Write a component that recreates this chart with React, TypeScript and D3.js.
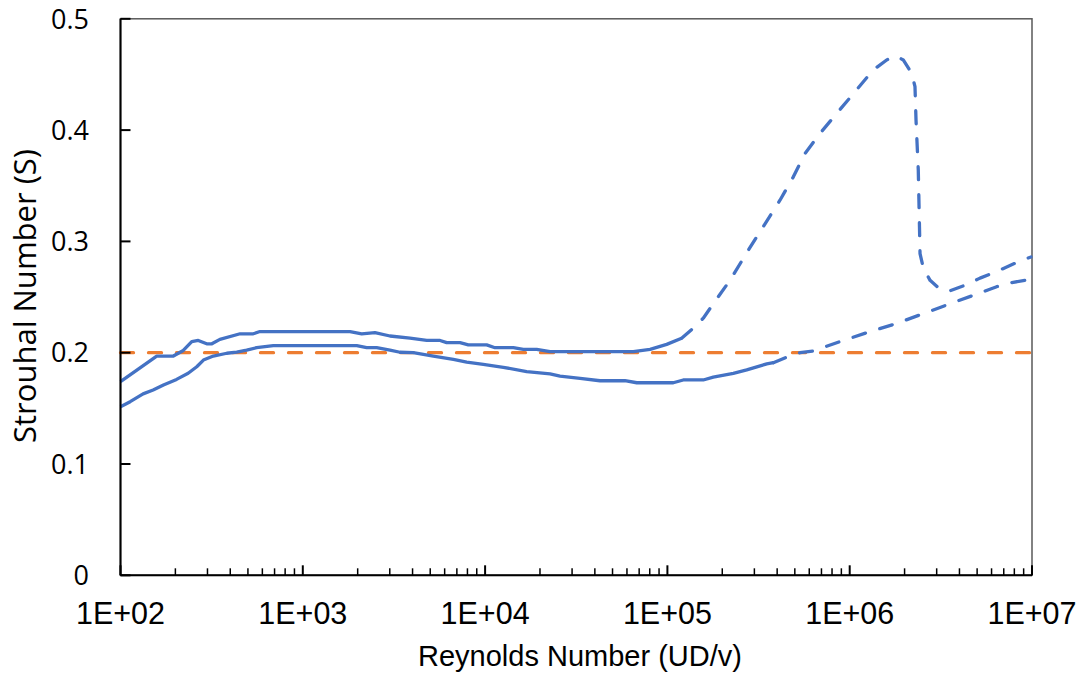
import React from 'react'
import * as d3 from 'd3'

// Reynolds number / Strouhal number pairs
const upperSolid: [number, number][] = [
  [100, 0.174], [158, 0.197], [195, 0.197], [221, 0.202], [246, 0.21], [267, 0.211],
  [297, 0.208], [317, 0.208], [351, 0.212], [453, 0.217], [535, 0.217], [582, 0.219],
  [816, 0.219], [1816, 0.219], [2104, 0.217], [2489, 0.218], [3007, 0.215], [3873, 0.213],
  [4785, 0.211], [5662, 0.211], [6157, 0.209], [7285, 0.209], [8090, 0.207], [10200, 0.207],
  [11330, 0.2045], [14280, 0.2045], [16210, 0.203], [19190, 0.203], [22710, 0.201],
  [65000, 0.201], [80350, 0.203], [99100, 0.2075], [119700, 0.213],
]

const upperDashed: [number, number][] = [
  [119700, 0.213], [138600, 0.222], [157300, 0.231], [178500, 0.244], [220400, 0.265],
  [277700, 0.292], [414500, 0.337], [490800, 0.358], [568700, 0.379], [687300, 0.397],
  [849000, 0.415], [1069000, 0.4345], [1346000, 0.454], [1595000, 0.463], [1794000, 0.4666],
  [1967000, 0.463], [2188000, 0.451], [2281000, 0.439], [2311000, 0.409], [2378000, 0.364],
  [2410000, 0.319], [2431000, 0.289], [2535000, 0.276], [2760000, 0.265], [3131000, 0.257],
  [3551000, 0.2557], [4200000, 0.26], [5185000, 0.267], [6400000, 0.273], [8780000, 0.283],
  [9870000, 0.286],
]

const lowerSolid: [number, number][] = [
  [100, 0.1515], [113, 0.156], [133, 0.163], [151, 0.1665], [172, 0.171], [203, 0.176],
  [235, 0.1815], [262, 0.1874], [285, 0.1934], [323, 0.197], [383, 0.1995], [434, 0.2006],
  [492, 0.2024], [558, 0.2045], [689, 0.2063], [1977, 0.2063], [2240, 0.2045], [2543, 0.2045],
  [3007, 0.2024], [3412, 0.2004], [4036, 0.2], [5200, 0.197], [6698, 0.194], [7927, 0.1916],
  [9776, 0.1896], [12590, 0.1869], [16910, 0.183], [22710, 0.181], [25760, 0.179],
  [33190, 0.177], [42700, 0.1748], [58510, 0.1748], [67900, 0.173], [107700, 0.173],
  [122200, 0.1755], [157300, 0.1755], [178500, 0.178], [230000, 0.1815], [272400, 0.1845],
  [350900, 0.19], [381300, 0.191],
]

const lowerDashed: [number, number][] = [
  [381300, 0.191], [451000, 0.196], [533500, 0.2], [631000, 0.2015], [884000, 0.21],
  [1240000, 0.218], [1771000, 0.2258], [2431000, 0.234], [3407000, 0.2429], [4667000, 0.251],
  [6400000, 0.2593], [7740000, 0.263], [9870000, 0.266],
]

const reference: [number, number][] = [[100, 0.2], [10000000, 0.2]]

const xTicks = [1e2, 1e3, 1e4, 1e5, 1e6, 1e7]
const xTickLabels = ['1E+02', '1E+03', '1E+04', '1E+05', '1E+06', '1E+07']
const yTicks = [0, 0.1, 0.2, 0.3, 0.4, 0.5]
const yTickLabels = ['0', '0.1', '0.2', '0.3', '0.4', '0.5']

const BLUE = '#4472C4'
const ORANGE = '#ED7D31'

export default function App() {
  const width = 1082, height = 677
  const x = d3.scaleLog().domain([1e2, 1e7]).range([120.5, 1032])
  const y = d3.scaleLinear().domain([0, 0.5]).range([575.3, 18.8])

  const line = d3.line<[number, number]>()
    .x(d => x(d[0]))
    .y(d => y(d[1]))

  // minor ticks 2..9 in every decade
  const minorTicks: number[] = []
  for (let e = 2; e < 7; e++) {
    for (let m = 2; m <= 9; m++) minorTicks.push(m * Math.pow(10, e))
  }

  const [x0, x1] = x.range()
  const [y0, y1] = y.range()
  const dash = { strokeDasharray: '13 15', strokeLinecap: 'round' as const }

  return (
    <svg width={width} height={height} style={{ position: 'absolute', left: 0, top: 0, background: '#fff' }}>
      <rect x={x0} y={y1} width={x1 - x0} height={y0 - y1} fill="none" stroke="#595959" strokeWidth={1.5} />

      {/* series */}
      <path d={line(reference) || ''} fill="none" stroke={ORANGE} strokeWidth={3.3} {...dash} />
      <path d={line(upperSolid) || ''} fill="none" stroke={BLUE} strokeWidth={3.3} strokeLinejoin="round" />
      <path d={line(lowerSolid) || ''} fill="none" stroke={BLUE} strokeWidth={3.3} strokeLinejoin="round" />
      <path d={line(upperDashed) || ''} fill="none" stroke={BLUE} strokeWidth={3.3} strokeLinejoin="round" {...dash} />
      <path d={line(lowerDashed) || ''} fill="none" stroke={BLUE} strokeWidth={3.3} strokeLinejoin="round" {...dash} />

      {/* axes */}
      <line x1={x0} x2={x0} y1={y1} y2={y0} stroke="#000" strokeWidth={2} />
      <line x1={x0} x2={x1} y1={y0} y2={y0} stroke="#000" strokeWidth={2} />
      {yTicks.map(t => (
        <line key={'yt' + t} x1={x0} x2={x0 + 10} y1={y(t)} y2={y(t)} stroke="#000" strokeWidth={2} />
      ))}
      {xTicks.map(t => (
        <line key={'xt' + t} x1={x(t)} x2={x(t)} y1={y0} y2={y0 - 10} stroke="#000" strokeWidth={2} />
      ))}
      {minorTicks.map(t => (
        <line key={'mt' + t} x1={x(t)} x2={x(t)} y1={y0} y2={y0 - 7} stroke="#000" strokeWidth={1.5} />
      ))}

      {/* tick labels */}
      {yTicks.map((t, i) => (
        <text key={'yl' + t} x={89} y={y(t)} dy="0.36em" textAnchor="end"
          fontFamily="'Open Sans', sans-serif" fontSize={27} fill="#000">{yTickLabels[i]}</text>
      ))}
      {xTicks.map((t, i) => (
        <text key={'xl' + t} x={x(t)} y={623.5} textAnchor="middle"
          fontFamily="'Liberation Sans', Arial, sans-serif" fontSize={30.5} fill="#000">{xTickLabels[i]}</text>
      ))}

      {/* axis titles */}
      <text x={580} y={665.5} textAnchor="middle"
        fontFamily="'Liberation Sans', Arial, sans-serif" fontSize={29} fill="#000">Reynolds Number (UD/v)</text>
      <text transform="translate(36,296) rotate(-90)" textAnchor="middle"
        fontFamily="'Open Sans', sans-serif" fontSize={31} fill="#000">Strouhal Number (S)</text>
    </svg>
  )
}
